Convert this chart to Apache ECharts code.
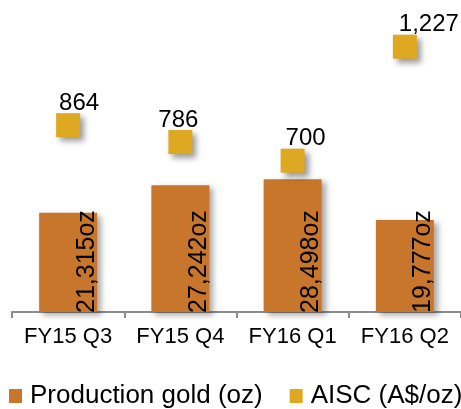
<!DOCTYPE html>
<html>
<head>
<meta charset="utf-8">
<script src="https://cdn.jsdelivr.net/npm/echarts@6/dist/echarts.min.js"></script>
<style>
html,body{margin:0;padding:0;background:#fff;}
#chart{width:461px;height:409px;}
</style>
</head>
<body>
<div id="chart"></div>
<script>
// ---- data ----
var categories = ['FY15 Q3', 'FY15 Q4', 'FY16 Q1', 'FY16 Q2'];
var productionGold = [21315, 27242, 28498, 19777];
var aisc = [864, 786, 700, 1227];
var seriesNames = ['Production gold (oz)', 'AISC (A$/oz)'];

// ---- styling ----
var FONT = '"Liberation Sans", Arial, sans-serif';
var BAR_COLOR = '#C8762B';
var SQ_COLOR = '#DEA820';
var aiscLabelShift = [11, -2, 13, 24];

function fmt(v) { return v.toLocaleString('en-US'); }

var chart = echarts.init(document.getElementById('chart'), null, {renderer: 'canvas'});
chart.setOption({
  animation: false,
  backgroundColor: '#ffffff',
  textStyle: {fontFamily: FONT},
  grid: {left: 12, right: 0, top: 9.3, bottom: 97, containLabel: false},
  legend: {
    left: 9, top: 383, padding: 0, width: 700,
    itemWidth: 13, itemHeight: 14, itemGap: 27,
    textStyle: {fontFamily: FONT, fontSize: 26, color: '#000', padding: [0, 0, 0, 3]},
    data: [
      {name: seriesNames[0], icon: 'rect', itemStyle: {color: BAR_COLOR, opacity: 1, shadowBlur: 0, shadowOffsetX: 0, shadowOffsetY: 0}},
      {name: seriesNames[1], icon: 'rect', itemStyle: {color: SQ_COLOR, opacity: 1, shadowBlur: 0, shadowOffsetX: 0, shadowOffsetY: 0}}
    ]
  },
  xAxis: {
    type: 'category',
    data: categories,
    boundaryGap: true,
    axisLine: {show: true, lineStyle: {color: '#8c8c8c', width: 2}},
    axisTick: {show: true, length: 6, interval: 0, lineStyle: {color: '#8c8c8c', width: 2}},
    axisLabel: {fontFamily: FONT, fontSize: 22, color: '#000', margin: 14, interval: 0}
  },
  yAxis: [
    {type: 'value', min: 0, max: 65000, show: false, splitLine: {show: false}},
    {type: 'value', min: 0, max: 1400, show: false, splitLine: {show: false}}
  ],
  series: [
    {
      name: seriesNames[0],
      type: 'bar',
      yAxisIndex: 0,
      barWidth: 58,
      data: productionGold,
      itemStyle: {
        color: BAR_COLOR,
        shadowColor: 'rgba(0,0,0,0.35)', shadowBlur: 6, shadowOffsetX: 4, shadowOffsetY: 3
      },
      label: {
        show: true,
        position: ['100%', '100%'],
        rotate: 90,
        align: 'left',
        verticalAlign: 'bottom',
        offset: [-1, 2],
        fontFamily: FONT,
        fontSize: 25,
        color: '#000',
        formatter: function (p) { return fmt(p.value) + 'oz'; }
      }
    },
    {
      name: seriesNames[1],
      type: 'scatter',
      yAxisIndex: 1,
      symbol: 'rect',
      symbolSize: 24,
      data: aisc.map(function (v, i) {
        return {value: v, label: {offset: [aiscLabelShift[i], 2]}};
      }),
      itemStyle: {
        color: SQ_COLOR,
        opacity: 1,
        shadowColor: 'rgba(0,0,0,0.4)', shadowBlur: 6, shadowOffsetX: 4, shadowOffsetY: 4
      },
      label: {
        show: true,
        position: 'top',
        distance: 0,
        fontFamily: FONT,
        fontSize: 24,
        color: '#000',
        formatter: function (p) { return fmt(p.value); }
      }
    }
  ]
});
</script>
</body>
</html>
